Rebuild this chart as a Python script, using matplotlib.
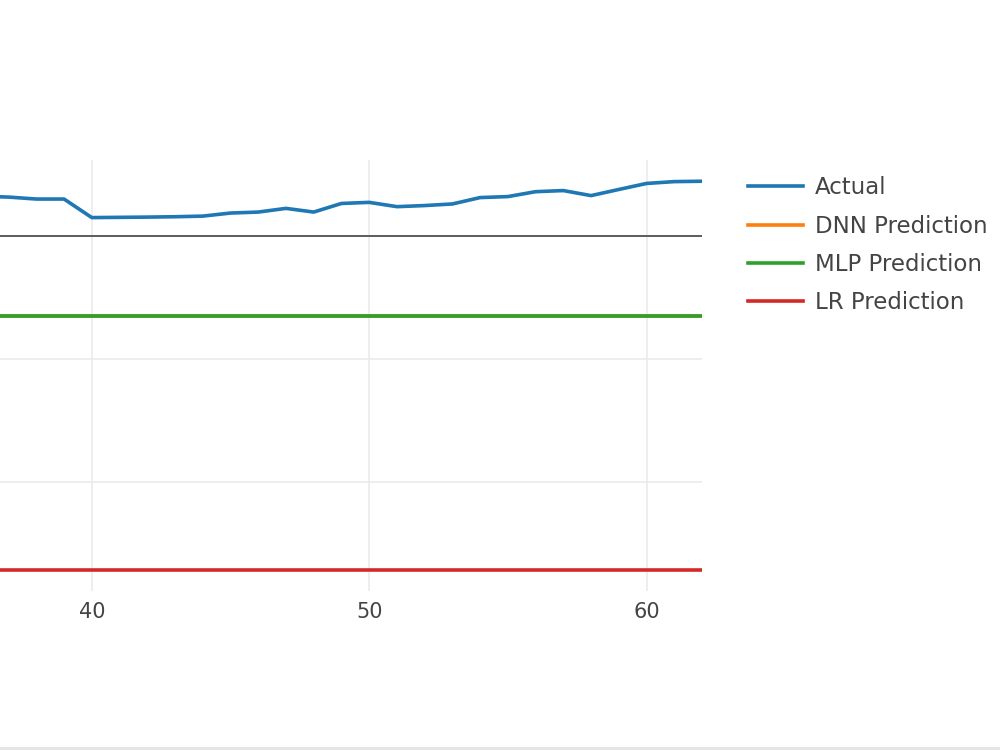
import numpy as np
import matplotlib
matplotlib.use('Agg')
from matplotlib import pyplot as plt
from matplotlib.lines import Line2D

plt.rcParams['font.family'] = ['DejaVu Sans']

# data (y in grid units, 0 = zeroline)
step = np.arange(36, 63)
actual = [0.325, 0.318, 0.302, 0.302, 0.151, 0.153, 0.155, 0.158, 0.163,
          0.188, 0.196, 0.226, 0.196, 0.266, 0.275, 0.240, 0.249, 0.262,
          0.314, 0.322, 0.362, 0.371, 0.330, 0.380, 0.429, 0.444, 0.447]
dnn_pred = [-0.653] * len(step)
mlp_pred = [-0.653] * len(step)
lr_pred = [-2.718] * len(step)

fig = plt.figure(figsize=(10, 7.5), dpi=100)
ax = fig.add_axes([0.0, 1 - 591 / 750, 0.702, (591 - 160) / 750])

ax.plot(step, actual, color='#1f77b4', linewidth=2.6, label='Actual')
ax.plot(step, dnn_pred, color='#ff7f0e', linewidth=2.6, label='DNN Prediction')
ax.plot(step, mlp_pred, color='#2ca02c', linewidth=2.6, label='MLP Prediction')
ax.plot(step, lr_pred, color='#d62728', linewidth=2.6, label='LR Prediction')

ax.axhline(0, color='#444444', linewidth=1.2, zorder=1.5)
ax.set_xlim(36.69, 62)
ax.set_ylim(-2.89, 0.62)
ax.set_xticks([40, 50, 60])
ax.set_yticks([-2, -1, 0])
ax.set_yticklabels([])
ax.grid(True, color='#ebebeb', linewidth=1.2)
ax.set_axisbelow(True)
for s in ax.spines.values():
    s.set_visible(False)
ax.tick_params(axis='both', length=0, colors='#444444', labelsize=15, pad=8)

fig.legend(loc='upper left', bbox_to_anchor=(0.748, 0.765), frameon=False,
           fontsize=16.5, handlelength=2.4, handletextpad=0.52, labelspacing=0.67,
           borderpad=0, borderaxespad=0, labelcolor='#444444')

fig.add_artist(Line2D([0, 1], [0.002, 0.002], color='#e5e5e5', linewidth=3))

fig.savefig('out.png', dpi=100, facecolor='white')
